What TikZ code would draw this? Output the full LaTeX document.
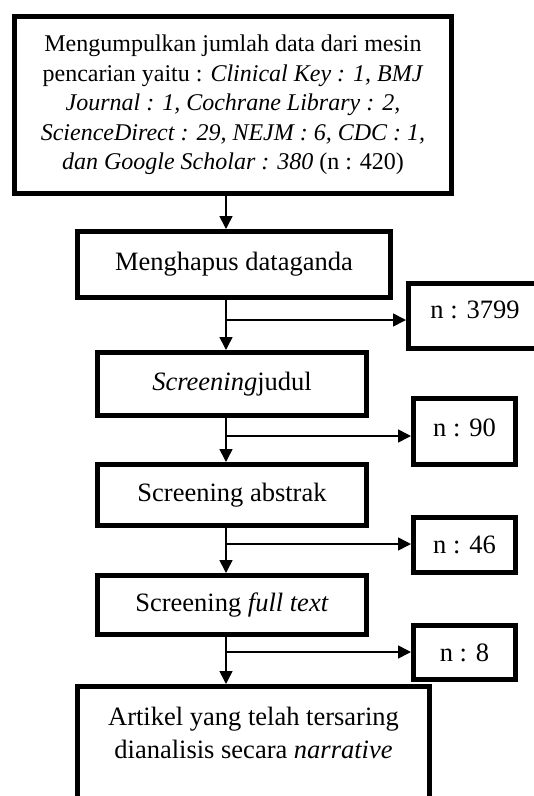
\documentclass[tikz,border=0pt]{standalone}
\usepackage{fontspec}
\setmainfont{Liberation Serif}
\usetikzlibrary{arrows.meta}
\begin{document}
\begin{tikzpicture}[x=1pt,y=-1pt,
  box/.style={draw, line width=5pt, rectangle, inner sep=0pt, align=center, font=\fontsize{26.5}{32.7}\selectfont},
  txt/.style={inner sep=0pt, align=center, font=\fontsize{26.5}{32.7}\selectfont},
  arr/.style={line width=1.6pt, -{Triangle[length=13pt,width=13pt]}}]
\useasboundingbox (0,0) rectangle (534,796);
\clip (0,0) rectangle (534,796);
\node[box, minimum width=437pt, minimum height=177pt, font=\fontsize{24}{29.5}\selectfont] (top) at (233,105)
  {Mengumpulkan jumlah data dari mesin\\
   pencarian yaitu : \textit{Clinical Key : 1, BMJ}\\
   \textit{Journal : 1, Cochrane Library : 2,}\\
   \textit{ScienceDirect : 29, NEJM : 6, CDC : 1,}\\
   \textit{dan Google Scholar : 380} (n : 420)};
\node[box, minimum width=313pt, minimum height=66pt] (b2) at (234,264.5) {Menghapus dataganda};
\node[box, minimum width=135pt, minimum height=65pt] (n1) at (476,316) {};
\node[txt] (n1t) at (475,310) {n : 3799};
\node[box, minimum width=269pt, minimum height=63pt] (s1) at (232,384) {\textit{Screening}judul};
\node[box, minimum width=102pt, minimum height=66pt] (n2) at (464.5,431.5) {};
\node[txt] (n2t) at (464.5,428) {n : 90};
\node[box, minimum width=269pt, minimum height=61pt] (s2) at (232,495) {Screening abstrak};
\node[box, minimum width=102pt, minimum height=55pt] (n3) at (464.5,545) {n : 46};
\node[box, minimum width=269pt, minimum height=59pt] (s3) at (232,605) {Screening \textit{full text}};
\node[box, minimum width=102pt, minimum height=54pt] (n4) at (464.5,652.5) {n : 8};
\node[box, minimum width=352pt, minimum height=141pt] (fin) at (253.5,757) {};
\node[txt] (fint) at (253.5,733) {Artikel yang telah tersaring\\dianalisis secara \textit{narrative}};
\coordinate (spine) at (226,0);
\draw[arr] (spine |- top.south) -- (spine |- b2.north);
\draw[arr] (spine |- b2.south) -- (spine |- s1.north);
\draw[arr] (spine |- s1.south) -- (spine |- s2.north);
\draw[arr] (spine |- s2.south) -- (spine |- s3.north);
\draw[arr] (spine |- s3.south) -- (spine |- fin.north);
\coordinate (j1) at (226,320);
\coordinate (j2) at (226,436);
\coordinate (j3) at (226,544);
\coordinate (j4) at (226,652);
\draw[arr] (j1) -- (j1 -| n1.west);
\draw[arr] (j2) -- (j2 -| n2.west);
\draw[arr] (j3) -- (j3 -| n3.west);
\draw[arr] (j4) -- (j4 -| n4.west);
\end{tikzpicture}
\end{document}
